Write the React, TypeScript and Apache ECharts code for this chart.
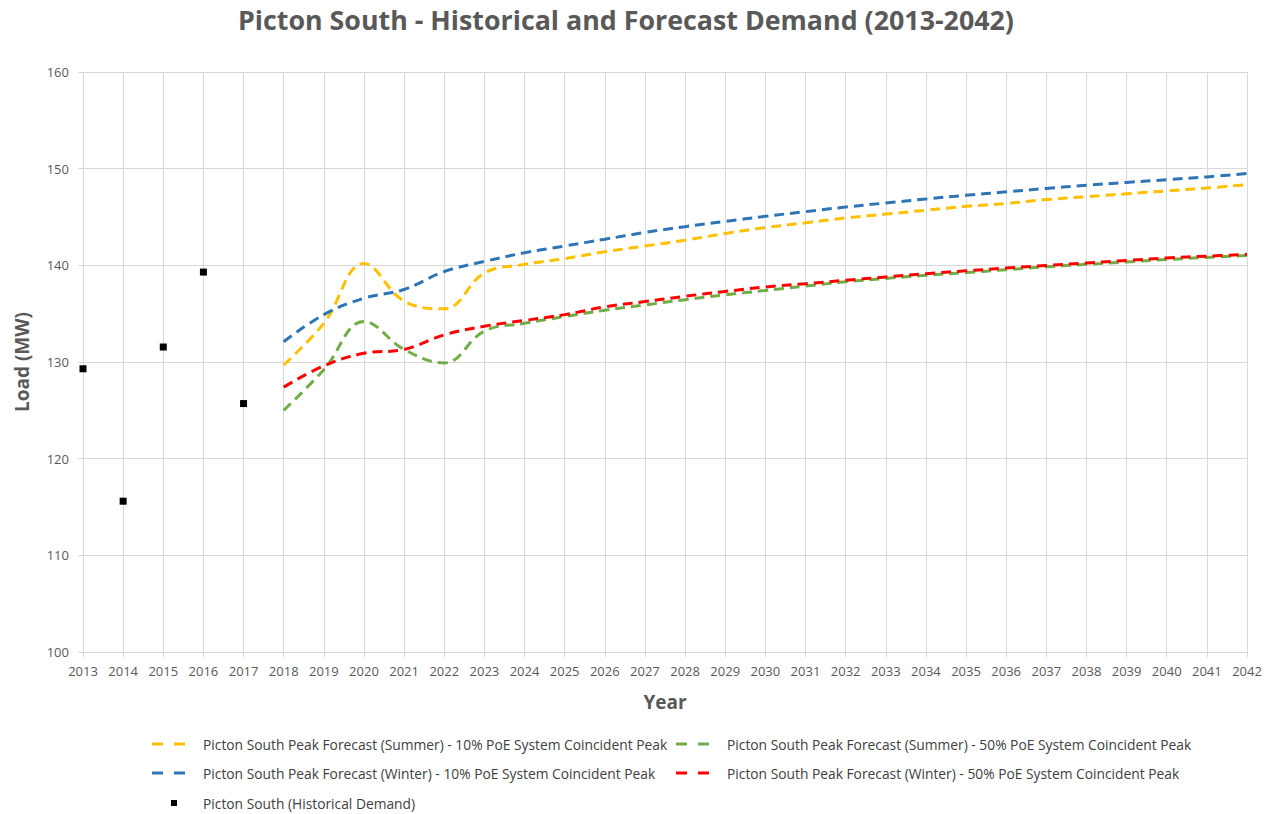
import React, { useEffect, useRef } from "react";
import * as echarts from "echarts";

const years: string[] = [];
for (let y = 2013; y <= 2042; y++) years.push(String(y));

const historical = [129.3, 115.6, 131.55, 139.3, 125.7];
const summer10 = [129.7, 134.0, 140.2, 136.3, 135.5, 139.2, 140.1, 140.7, 141.4, 142.0, 142.6, 143.3, 143.9, 144.4, 144.9, 145.3, 145.7, 146.1, 146.4, 146.8, 147.1, 147.4, 147.7, 148.0, 148.35];
const summer50 = [125.0, 129.2, 134.2, 131.3, 129.9, 133.2, 134.0, 134.7, 135.35, 135.9, 136.45, 136.95, 137.4, 137.85, 138.3, 138.65, 138.97, 139.25, 139.55, 139.85, 140.1, 140.35, 140.6, 140.82, 141.03];
const winter10 = [132.1, 134.9, 136.6, 137.5, 139.35, 140.4, 141.3, 142.0, 142.7, 143.4, 144.0, 144.55, 145.07, 145.55, 146.03, 146.45, 146.86, 147.25, 147.6, 147.95, 148.28, 148.58, 148.86, 149.15, 149.5];
const winter50 = [127.4, 129.6, 130.9, 131.3, 132.8, 133.7, 134.3, 134.9, 135.7, 136.25, 136.8, 137.3, 137.76, 138.1, 138.45, 138.8, 139.14, 139.43, 139.72, 139.98, 140.24, 140.5, 140.76, 140.95, 141.14];

const names = [
  "Picton South Peak Forecast (Summer) - 10% PoE System Coincident Peak",
  "Picton South Peak Forecast (Summer) - 50% PoE System Coincident Peak",
  "Picton South Peak Forecast (Winter) - 10% PoE System Coincident Peak",
  "Picton South Peak Forecast (Winter) - 50% PoE System Coincident Peak",
  "Picton South (Historical Demand)",
];
const colors = ["#FFC000", "#70AD47", "#2E75B6", "#FF0000", "#000000"];

const pad = (arr: number[], before: number) => {
  const out: (number | null)[] = [];
  for (let i = 0; i < before; i++) out.push(null);
  return out.concat(arr);
};

const FONT = "'Open Sans', sans-serif";
const DASH_ICON = "path://M0,0H11V3H0Z M22,0H33V3H22Z";

export default function App() {
  const ref = useRef<HTMLDivElement>(null);
  useEffect(() => {
    if (!ref.current) return;
    const chart = echarts.init(ref.current, undefined, { renderer: "svg" });
    const lineSeries = (i: number, data: number[]) => ({
      name: names[i],
      type: "line",
      data: pad(data, 5),
      smooth: 0.4,
      symbol: "none",
      lineStyle: { color: colors[i], width: 3, type: [10, 6] },
      itemStyle: { color: colors[i] },
    });
    const legendText = (padLeft: number) => ({
      color: "#404040",
      fontSize: 13.8,
      fontFamily: FONT,
      padding: [0, 0, 0, padLeft],
    });
    const legendItem = (i: number, left: number, top: number) => ({
      data: [{ name: names[i], icon: DASH_ICON }],
      left,
      top,
      padding: 0,
      itemWidth: 33,
      itemHeight: 3,
      textStyle: legendText(13),
    });
    chart.setOption({
      animation: false,
      backgroundColor: "#ffffff",
      title: {
        text: "Picton South - Historical and Forecast Demand (2013-2042)",
        left: 238,
        top: 6,
        padding: 0,
        textStyle: { fontFamily: FONT, fontSize: 26.8, fontWeight: "bold", color: "#595959" },
      },
      grid: { left: 83, right: 25, top: 72, bottom: 162 },
      legend: [
        legendItem(0, 152, 737),
        legendItem(1, 676, 737),
        legendItem(2, 152, 766),
        legendItem(3, 676, 766),
        {
          data: [{ name: names[4], icon: "rect" }],
          left: 171,
          top: 796,
          padding: 0,
          itemWidth: 6,
          itemHeight: 6,
          itemStyle: { color: "#000000" },
          textStyle: legendText(21),
        },
      ],
      xAxis: {
        type: "category",
        data: years,
        boundaryGap: false,
        name: "Year",
        nameLocation: "middle",
        nameGap: 40,
        nameTextStyle: { fontFamily: FONT, fontSize: 19, fontWeight: "bold", color: "#595959" },
        axisLine: { lineStyle: { color: "#D9D9D9" } },
        axisTick: { show: true, interval: 0, length: 5, lineStyle: { color: "#D9D9D9" } },
        axisLabel: { interval: 0, color: "#595959", fontSize: 13, fontFamily: FONT, margin: 12 },
        splitLine: { show: true, interval: 0, lineStyle: { color: "#D9D9D9" } },
      },
      yAxis: {
        type: "value",
        min: 100,
        max: 160,
        interval: 10,
        name: "Load (MW)",
        nameLocation: "middle",
        nameGap: 52,
        nameTextStyle: { fontFamily: FONT, fontSize: 19, fontWeight: "bold", color: "#595959" },
        axisLine: { show: true, lineStyle: { color: "#D9D9D9" } },
        axisTick: { show: true, length: 5, lineStyle: { color: "#D9D9D9" } },
        axisLabel: { color: "#595959", fontSize: 13, fontFamily: FONT, margin: 14 },
        splitLine: { show: true, lineStyle: { color: "#D9D9D9" } },
      },
      series: [
        lineSeries(0, summer10),
        lineSeries(1, summer50),
        lineSeries(2, winter10),
        lineSeries(3, winter50),
        {
          name: names[4],
          type: "scatter",
          data: historical,
          symbol: "rect",
          symbolSize: 7,
          itemStyle: { color: "#000000", opacity: 1 },
        },
      ],
    });
    return () => chart.dispose();
  }, []);
  return (
    <div
      ref={ref}
      style={{ position: "fixed", left: 0, top: 0, width: 1272, height: 814 }}
    />
  );
}
